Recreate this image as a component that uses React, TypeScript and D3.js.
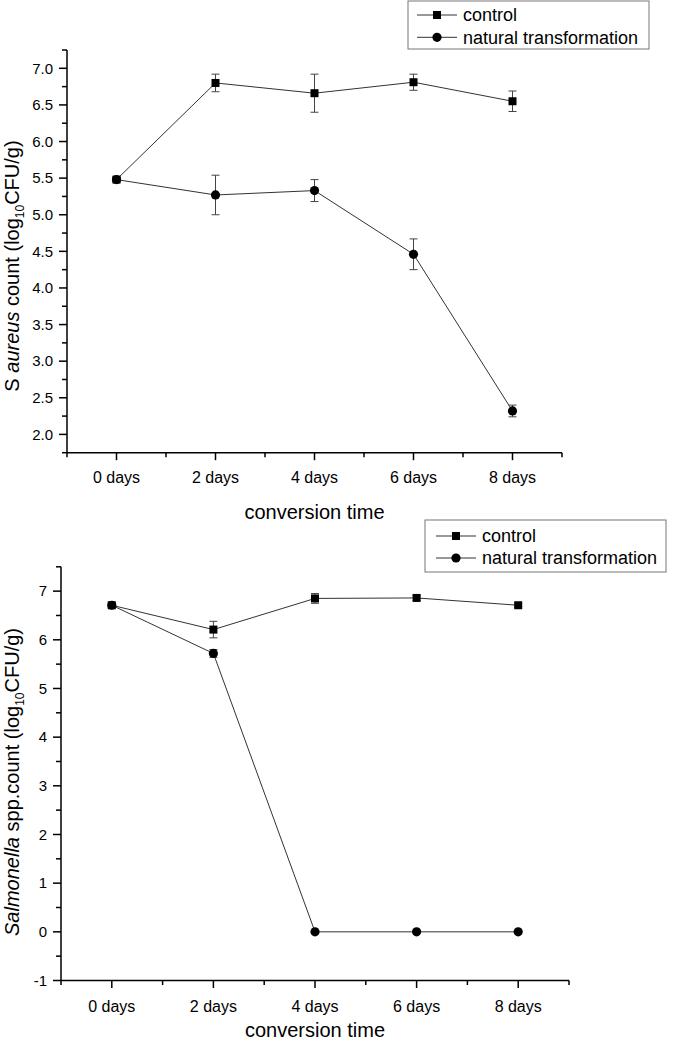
import React from "react";
import * as d3 from "d3";

const days = ["0 days", "2 days", "4 days", "6 days", "8 days"];

const aureusControl = [5.48, 6.8, 6.66, 6.81, 6.55];
const aureusControlErr = [0.03, 0.12, 0.26, 0.11, 0.14];
const aureusNatural = [5.48, 5.27, 5.33, 4.46, 2.32];
const aureusNaturalErr = [0.03, 0.27, 0.15, 0.21, 0.08];

const salControl = [6.71, 6.21, 6.85, 6.86, 6.71];
const salControlErr = [0.05, 0.17, 0.1, 0.05, 0.03];
const salNatural = [6.71, 5.72, 0, 0, 0];
const salNaturalErr = [0.05, 0.08, 0, 0, 0];

const aureusMajorTicks = [2.0, 2.5, 3.0, 3.5, 4.0, 4.5, 5.0, 5.5, 6.0, 6.5, 7.0];
const salMajorTicks = [-1, 0, 1, 2, 3, 4, 5, 6, 7];

const legendLabels = ["control", "natural transformation"];

const FONT = "'Liberation Sans', Arial, Helvetica, sans-serif";
const LINE = "#333";

type Series = { values: number[]; errs: number[]; shape: "square" | "circle" };

function Marker({ shape, x, y }: { shape: string; x: number; y: number }) {
  if (shape === "square") return <rect x={x - 4} y={y - 4} width={8} height={8} fill="#000" />;
  return <circle cx={x} cy={y} r={4.6} fill="#000" />;
}

function Panel(props: {
  left: number; right: number; top: number; bottom: number;
  yDomain: [number, number]; majorTicks: number[]; minorStep: number; fmt: (v: number) => string;
  series: Series[];
  tickLabelY: number; titleY: number;
  legend: { x0: number; x1: number; y0: number; y1: number; rows: number[]; lineX0: number; lineX1: number; markX: number; textX: number };
  yTitleX: number; yTitleCY: number; yTitle: React.ReactNode;
}) {
  const { left, right, top, bottom, yDomain, majorTicks, minorStep, fmt, series, legend } = props;
  const x = d3.scaleLinear().domain([-0.5, 4.5]).range([left, right]);
  const y = d3.scaleLinear().domain(yDomain).range([bottom, top]);
  const minorY = d3.range(yDomain[0], yDomain[1] + 1e-6, minorStep).filter(v => !majorTicks.some(m => Math.abs(m - v) < 1e-6));
  const minorX = d3.range(-0.5, 4.5 + 1e-6, 1);
  const line = d3.line<number>().x((_, i) => x(i)).y(v => y(v));
  return (
    <g fontFamily={FONT}>
      <line x1={left} x2={left} y1={top} y2={bottom} stroke="#000" strokeWidth={1.5} />
      <line x1={left} x2={right} y1={bottom} y2={bottom} stroke="#000" strokeWidth={1.5} />
      {majorTicks.map(v => (
        <g key={"ym" + v}>
          <line x1={left - 8} x2={left} y1={y(v)} y2={y(v)} stroke="#000" strokeWidth={1.5} />
          <text x={left - 14} y={y(v)} dy="0.35em" textAnchor="end" fontSize={15}>{fmt(v)}</text>
        </g>
      ))}
      {minorY.map(v => (
        <line key={"yn" + v} x1={left - 5} x2={left} y1={y(v)} y2={y(v)} stroke="#000" strokeWidth={1.5} />
      ))}
      {days.map((d, i) => (
        <g key={"xm" + i}>
          <line x1={x(i)} x2={x(i)} y1={bottom} y2={bottom + 7.5} stroke="#000" strokeWidth={1.5} />
          <text x={x(i)} y={props.tickLabelY} textAnchor="middle" fontSize={16}>{d}</text>
        </g>
      ))}
      {minorX.map(v => (
        <line key={"xn" + v} x1={x(v)} x2={x(v)} y1={bottom} y2={bottom + 4.5} stroke="#000" strokeWidth={1.5} />
      ))}
      <text x={(left + right) / 2} y={props.titleY} textAnchor="middle" fontSize={20}>conversion time</text>
      <text transform={`translate(${props.yTitleX},${props.yTitleCY}) rotate(-90)`} textAnchor="middle" fontSize={20}>{props.yTitle}</text>
      {series.map((s, si) => (
        <g key={"s" + si}>
          <path d={line(s.values) || ""} fill="none" stroke={LINE} strokeWidth={1} />
          {s.values.map((v, i) => s.errs[i] > 0 ? (
            <g key={"e" + i} stroke="#444" strokeWidth={1}>
              <line x1={x(i)} x2={x(i)} y1={y(v - s.errs[i])} y2={y(v + s.errs[i])} />
              <line x1={x(i) - 4} x2={x(i) + 4} y1={y(v - s.errs[i])} y2={y(v - s.errs[i])} />
              <line x1={x(i) - 4} x2={x(i) + 4} y1={y(v + s.errs[i])} y2={y(v + s.errs[i])} />
            </g>
          ) : null)}
          {s.values.map((v, i) => <Marker key={"m" + i} shape={s.shape} x={x(i)} y={y(v)} />)}
        </g>
      ))}
      <rect x={legend.x0} y={legend.y0} width={legend.x1 - legend.x0} height={legend.y1 - legend.y0} fill="#fff" stroke="#777" strokeWidth={1} />
      {legendLabels.map((lab, i) => (
        <g key={"l" + i}>
          <line x1={legend.lineX0} x2={legend.lineX1} y1={legend.rows[i]} y2={legend.rows[i]} stroke={LINE} strokeWidth={1} />
          <Marker shape={i === 0 ? "square" : "circle"} x={legend.markX} y={legend.rows[i]} />
          <text x={legend.textX} y={legend.rows[i]} dy="0.35em" fontSize={18}>{lab}</text>
        </g>
      ))}
    </g>
  );
}

export default function App() {
  return (
    <svg width={673} height={1040} style={{ position: "absolute", left: 0, top: 0, background: "#fff" }}>
      <rect x={0} y={0} width={673} height={1040} fill="#fff" />
      <Panel
        left={67} right={562} top={50} bottom={452.7}
        yDomain={[1.75, 7.25]} majorTicks={aureusMajorTicks} minorStep={0.25} fmt={v => v.toFixed(1)}
        series={[
          { values: aureusControl, errs: aureusControlErr, shape: "square" },
          { values: aureusNatural, errs: aureusNaturalErr, shape: "circle" },
        ]}
        tickLabelY={483} titleY={519}
        legend={{ x0: 408, x1: 649, y0: 1, y1: 49, rows: [15, 37.3], lineX0: 417, lineX1: 457, markX: 437, textX: 463 }}
        yTitleX={19} yTitleCY={266}
        yTitle={<>S <tspan fontStyle="italic">aureus</tspan> count (log<tspan fontSize={12} dy={5}>10</tspan><tspan dy={-5}>CFU/g)</tspan></>}
      />
      <Panel
        left={61} right={569} top={566.8} bottom={980.5}
        yDomain={[-1, 7.5]} majorTicks={salMajorTicks} minorStep={0.5} fmt={v => String(v)}
        series={[
          { values: salControl, errs: salControlErr, shape: "square" },
          { values: salNatural, errs: salNaturalErr, shape: "circle" },
        ]}
        tickLabelY={1012} titleY={1037}
        legend={{ x0: 425, x1: 666, y0: 520, y1: 572, rows: [536, 558], lineX0: 436, lineX1: 476, markX: 456, textX: 482 }}
        yTitleX={19} yTitleCY={782}
        yTitle={<><tspan fontStyle="italic">Salmonella</tspan> spp.count (log<tspan fontSize={12} dy={5}>10</tspan><tspan dy={-5}>CFU/g)</tspan></>}
      />
    </svg>
  );
}
